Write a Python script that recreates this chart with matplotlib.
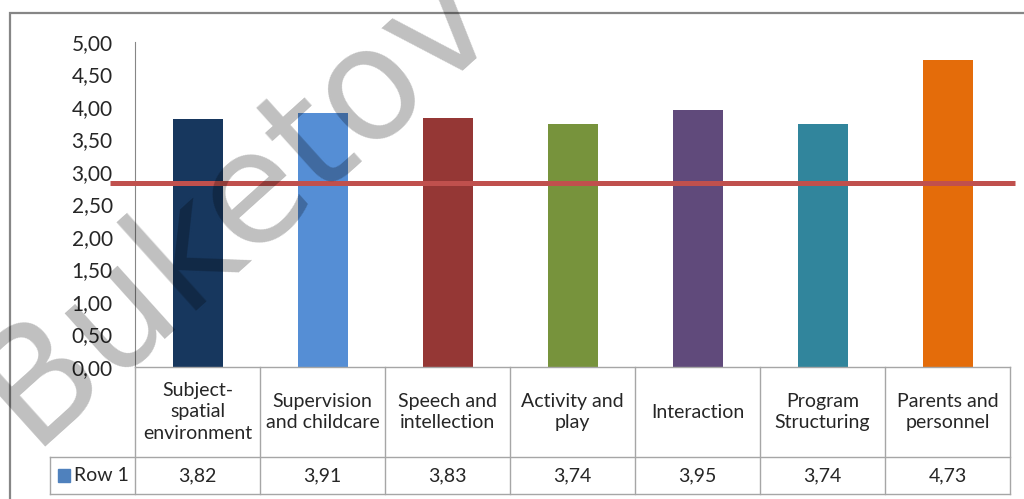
import matplotlib
matplotlib.use("Agg")
import matplotlib.pyplot as plt
from matplotlib.patches import Rectangle
from matplotlib.lines import Line2D

# data
categories = ["Subject-\nspatial\nenvironment", "Supervision\nand childcare",
              "Speech and\nintellection", "Activity and\nplay", "Interaction",
              "Program\nStructuring", "Parents and\npersonnel"]
values = [3.82, 3.91, 3.83, 3.74, 3.95, 3.74, 4.73]
bar_colors = ["#17375E", "#558ED5", "#953735", "#77933C", "#604A7B", "#31859C", "#E46C0A"]
threshold = 2.83
series_name = "Row 1"
yticks = [0, 0.5, 1, 1.5, 2, 2.5, 3, 3.5, 4, 4.5, 5]

plt.rcParams['font.family'] = ['Lato', 'DejaVu Sans']

W, H = 1024, 499
fig = plt.figure(figsize=(W / 100, H / 100), dpi=100)

def fx(px):
    return px / W

def fy(py):
    return 1 - py / H

x0, x1 = 135, 1010   # plot area in pixels
ytop, ybot = 42, 367
ax = fig.add_axes([fx(x0), fy(ybot), fx(x1) - fx(x0), fy(ytop) - fy(ybot)])

n = len(values)
ax.bar(range(n), values, width=0.4, color=bar_colors, zorder=2)
ax.plot([-0.7, n - 0.46], [threshold, threshold], color="#C0504D", lw=3.6,
        clip_on=False, zorder=3, solid_capstyle="butt")

ax.set_xlim(-0.5, n - 0.5)
ax.set_ylim(0, 5)
ax.set_yticks(yticks)
ax.set_yticklabels([f"{t:.2f}".replace(".", ",") for t in yticks], fontsize=15, color="#262626")
ax.tick_params(axis="y", length=0, pad=16)
ax.set_xticks([])
for s in ["top", "right", "bottom"]:
    ax.spines[s].set_visible(False)
ax.spines["left"].set_color("#868686")
ax.spines["left"].set_linewidth(0.8)

# outer chart frame
fig.patches.append(Rectangle((fx(10), fy(510)), fx(1040) - fx(10), fy(13) - fy(510),
                             transform=fig.transFigure, fill=False,
                             edgecolor="#868686", lw=1.6, zorder=0))

# data table below the plot
grid = "#A6A6A6"
col_w = (x1 - x0) / n
row1_y, row2_y, row3_y = ybot, 457, 494
def hline(xa, xb, y):
    fig.add_artist(Line2D([fx(xa), fx(xb)], [fy(y), fy(y)], color=grid, lw=1))
def vline(x, ya, yb):
    fig.add_artist(Line2D([fx(x), fx(x)], [fy(ya), fy(yb)], color=grid, lw=1))

hline(x0, x1, row1_y)
hline(50, x1, row2_y)
hline(50, x1, row3_y)
for k in range(n + 1):
    vline(x0 + k * col_w, row1_y, row3_y)
vline(50, row2_y, row3_y)

for k, (cat, v) in enumerate(zip(categories, values)):
    cx = x0 + (k + 0.5) * col_w
    fig.text(fx(cx), fy((row1_y + row2_y) / 2), cat, ha="center", va="center",
             fontsize=14, color="#262626", linespacing=1.3)
    fig.text(fx(cx), fy((row2_y + row3_y) / 2), f"{v:.2f}".replace(".", ","),
             ha="center", va="center", fontsize=14, color="#262626")

fig.patches.append(Rectangle((fx(58), fy(482)), fx(12), fy(469) - fy(482),
                             transform=fig.transFigure, color="#4F81BD"))
fig.text(fx(74), fy((row2_y + row3_y) / 2), series_name, ha="left", va="center",
         fontsize=14, color="#262626")

# watermark
fig.text(fx(30), fy(447), "Buketov", fontsize=112, family="DejaVu Sans",
         color=(0, 0, 0, 0.25), rotation=42, rotation_mode="anchor",
         ha="left", va="baseline", zorder=10)

fig.savefig("out.png", dpi=100)
